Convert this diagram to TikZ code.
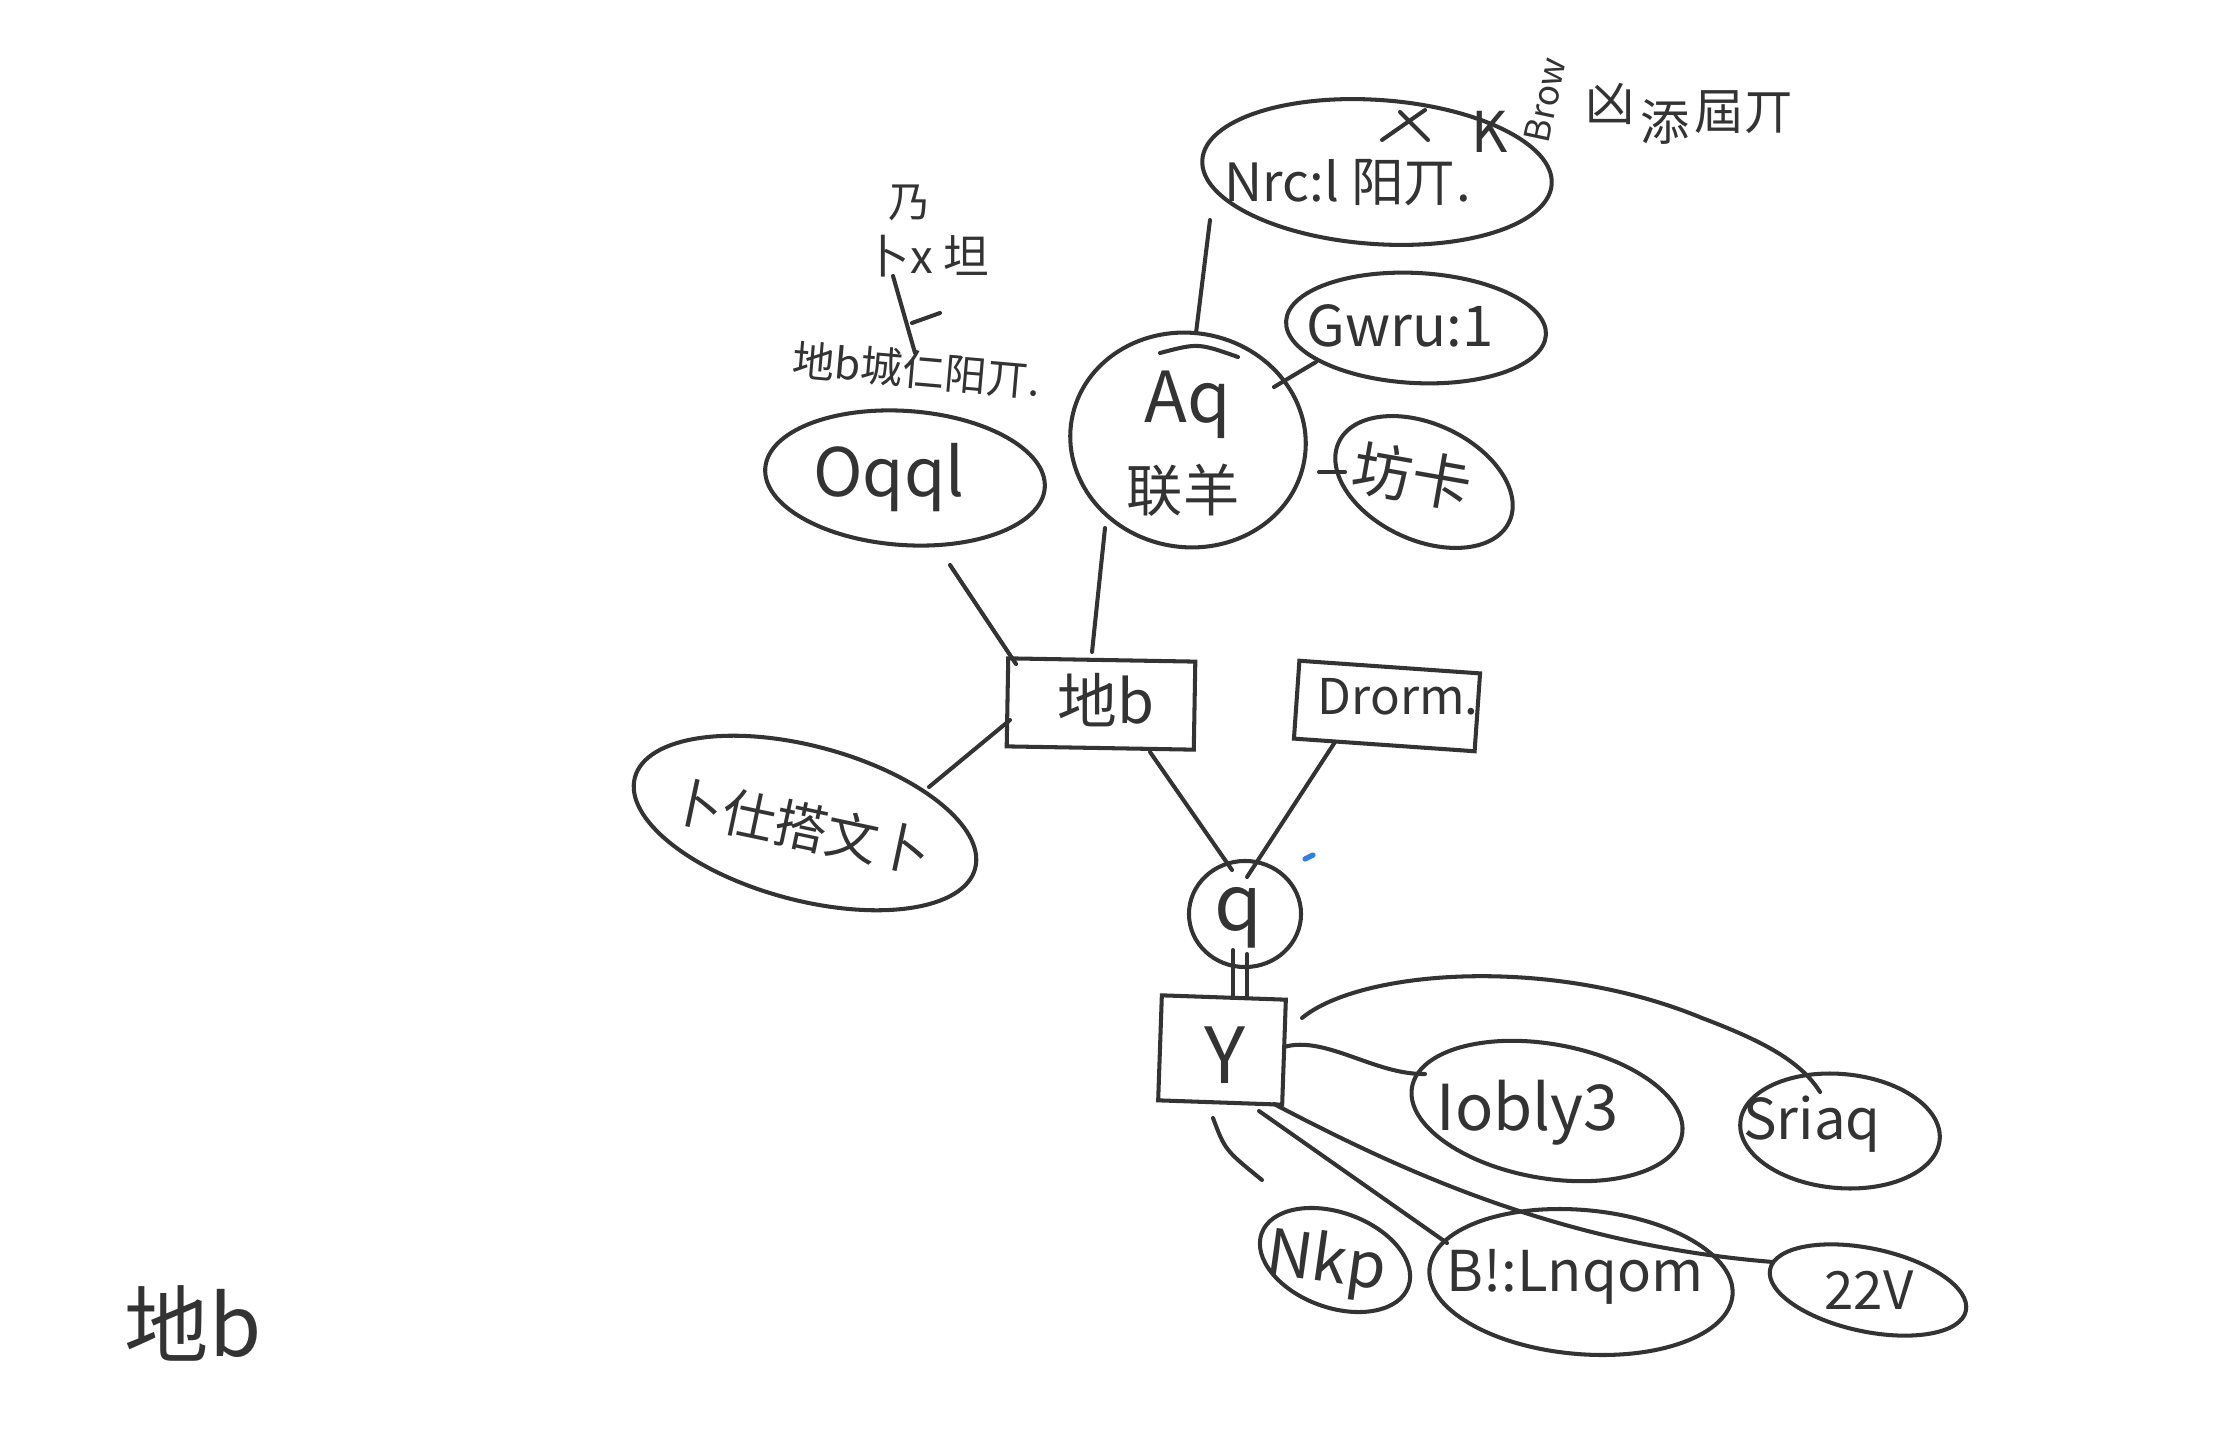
\documentclass[tikz,border=0pt]{standalone}
\usepackage{fontspec}
\newfontfamily\hw{Noto Sans CJK SC}
\usetikzlibrary{shapes.geometric,calc}
\definecolor{ink}{HTML}{333333}
\definecolor{bluedot}{HTML}{2F80E0}
\newcommand{\fs}[1]{\fontsize{#1}{#1}\selectfont}
\begin{document}
\begin{tikzpicture}[x=0.01cm,y=-0.01cm,
  ln/.style={draw=ink,line width=1.15pt,line cap=round,line join=round},
  oval/.style={ellipse,draw=ink,line width=1.15pt,inner sep=0pt},
  boxx/.style={rectangle,draw=ink,line width=1.15pt,inner sep=0pt},
  lbl/.style={text=ink,font=\hw,inner sep=0pt}]
\useasboundingbox[fill=white] (0,0) rectangle (2224,1452);

% shapes
\node[oval,minimum width=3.50cm,minimum height=1.44cm,rotate=-4] (top) at (1377,172) {};
\node[oval,minimum width=2.60cm,minimum height=1.10cm,rotate=-3] (gw) at (1416,328) {};
\node[oval,minimum width=2.36cm,minimum height=2.14cm,rotate=-10] (big) at (1188,440) {};
\node[oval,minimum width=1.88cm,minimum height=1.16cm,rotate=-25] (fang) at (1424,482) {};
\node[oval,minimum width=2.80cm,minimum height=1.34cm,rotate=-4] (oqql) at (905,478) {};
\node[oval,minimum width=3.52cm,minimum height=1.54cm,rotate=-15] (ll) at (805,823) {};
\node[boxx,minimum width=1.87cm,minimum height=0.88cm,rotate=-1] (root) at (1101,704) {};
\node[boxx,minimum width=1.81cm,minimum height=0.78cm,rotate=-4] (drorm) at (1387,706) {};
\node[oval,minimum width=1.12cm,minimum height=1.06cm] (q) at (1245,914) {};
\node[boxx,minimum width=1.24cm,minimum height=1.05cm,rotate=-2] (Y) at (1222,1050) {};
\node[oval,minimum width=2.74cm,minimum height=1.34cm,rotate=-10] (iobly) at (1547,1111) {};
\node[oval,minimum width=2.00cm,minimum height=1.14cm,rotate=-5] (sriaq) at (1840,1131) {};
\node[oval,minimum width=1.56cm,minimum height=0.95cm,rotate=-20] (nkp) at (1335,1260) {};
\node[oval,minimum width=3.04cm,minimum height=1.44cm,rotate=-5] (blnq) at (1581,1282) {};
\node[oval,minimum width=2.00cm,minimum height=0.83cm,rotate=-12] (v22) at (1868,1290) {};

% texts
\node[lbl,font=\hw\fs{15}] (topt) at (1348,183) {Nrc:l 阳丌.};
\node[lbl,font=\hw\fs{16}] (gwt) at (1400,326) {Gwru:1};
\node[lbl,font=\hw\fs{20}] (bigt1) at (1188,405) {Aq};
\node[lbl,font=\hw\fs{16}] (bigt2) at (1183,490) {联羊};
\node[lbl,font=\hw\fs{17},rotate=-10] (fangt) at (1412,476) {坊卡};
\node[lbl,font=\hw\fs{19}] (oqqlt) at (889,478) {Oqql};
\node[lbl,font=\hw\fs{15},rotate=-12] (llt) at (801,826) {卜仕搭文卜};
\node[lbl,font=\hw\fs{17}] (roott) at (1106,700) {地b};
\node[lbl,font=\hw\fs{14}] (drormt) at (1398,697) {Drorm.};
\node[lbl,font=\hw\fs{22}] (qt) at (1238,918) {q};
\node[lbl,font=\hw\fs{22}] (Yt) at (1225,1055) {Y};
\node[lbl,font=\hw\fs{18}] (ioblyt) at (1528,1113) {Iobly3};
\node[lbl,font=\hw\fs{16}] (sriaqt) at (1812,1124) {Sriaq};
\node[lbl,font=\hw\fs{18},rotate=-8] (nkpt) at (1326,1264) {Nkp};
\node[lbl,font=\hw\fs{16}] (blnqt) at (1575,1277) {B!:Lnqom};
\node[lbl,font=\hw\fs{15}] (v22t) at (1869,1290) {22V};
\node[lbl,font=\hw\fs{24}] (corner) at (193,1323) {地b};
\node[lbl,font=\hw\fs{12},rotate=-5] (anno1) at (917,370) {地b城仁阳丌.};
\node[lbl,font=\hw\fs{13}] (anno2) at (927,256) {卜x 坦};
\node[lbl,font=\hw\fs{12}] (anno3) at (910,203) {乃};
\node[lbl,font=\hw\fs{16}] (trk) at (1490,132) {K};
\node[lbl,font=\hw\fs{10},rotate=78] (trbrow) at (1545,100) {Brow};
\node[lbl,font=\hw\fs{14}] (tr1) at (1610,104) {凶};
\node[lbl,font=\hw\fs{14}] (tr2) at (1665,122) {添};
\node[lbl,font=\hw\fs{14}] (tr3) at (1744,112) {屆丌};

% connectors
\draw[ln] ($(top)+(-167,48)$) -- ($(big)+(8,-107)$);
\draw[ln] ($(big)+(86,-53)$) -- ($(gw)+(-100,34)$);
\draw[ln] ($(big)+(131,32)$) -- ($(fang)+(-79,-10)$);
\draw[ln] ($(big)+(-83,88)$) -- ($(root)+(-9,-52)$);
\draw[ln] ($(oqql)+(45,87)$) -- ($(root)+(-85,-40)$);
\draw[ln] ($(ll)+(124,-36)$) -- ($(root)+(-91,16)$);
\draw[ln] ($(root)+(49,48)$) -- ($(q)+(-13,-44)$);
\draw[ln] ($(drorm)+(-52,36)$) -- ($(q)+(2,-37)$);
\draw[ln] ($(q)+(-12,36)$) -- ($(Y)+(11,-52)$);
\draw[ln] ($(q)+(2,40)$) -- ($(Y)+(25,-52)$);
\draw[ln] ($(Y)+(62,-3)$) .. controls ($(Y)+(103,-15)$) and ($(iobly)+(-172,-36)$) .. ($(iobly)+(-122,-37)$);
\draw[ln] ($(Y)+(80,-32)$) .. controls ($(Y)+(138,-80)$) and ($(sriaq)+(-290,-176)$) .. ($(sriaq)+(-138,-113)$)
          .. controls ($(sriaq)+(-80,-91)$) and ($(sriaq)+(-40,-71)$) .. ($(sriaq)+(-20,-39)$);
\draw[ln] ($(Y)+(37,61)$) -- ($(blnq)+(-134,-39)$);
\draw[ln] ($(Y)+(52,54)$) .. controls ($(Y)+(178,120)$) and ($(v22)+(-308,-45)$) .. ($(v22)+(-95,-28)$);
\coordinate (dang) at (1262,1180);
\draw[ln] ($(Y)+(-9,68)$) .. controls ($(Y)+(3,100)$) .. (dang);
\draw[ln] ($(anno2)+(-34,20)$) -- ($(anno1)+(-2,-17)$);

% extra strokes
\draw[ln] ($(big)+(-28,-87)$) .. controls ($(big)+(10,-97)$) .. ($(big)+(50,-83)$);
\draw[ln] (912,323) -- (940,313);
\draw[ln] (1382,140) -- (1425,110);
\draw[ln] (1400,112) -- (1428,140);
\draw[bluedot,line width=1.5pt,line cap=round] (1305,859) -- (1313,855);
\end{tikzpicture}
\end{document}
